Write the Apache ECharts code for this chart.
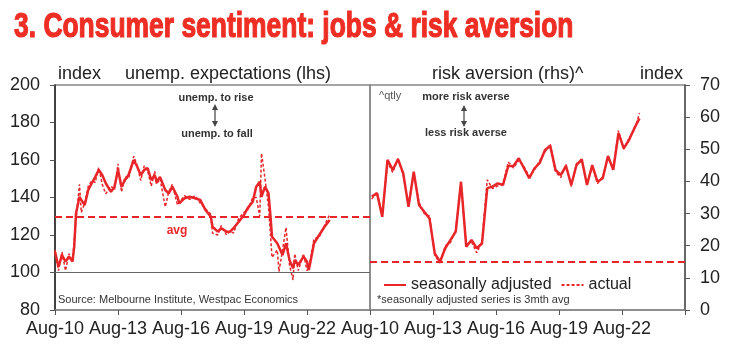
<!DOCTYPE html>
<html>
<head>
<meta charset="utf-8">
<script src="https://cdn.jsdelivr.net/npm/echarts@6/dist/echarts.min.js"></script>
<style>
  html, body { margin: 0; padding: 0; background: #fff; }
  #chart { width: 733px; height: 351px; }
</style>
</head>
<body>
<div id="chart"></div>
<script>
// unemployment expectations, monthly (lhs)
const unempDates = ['2010-08', '2010-10', '2010-12', '2011-02', '2011-04', '2011-06', '2011-07', '2011-08', '2011-10', '2011-11',
  '2012-01', '2012-03', '2012-05', '2012-07', '2012-09', '2012-11', '2013-01', '2013-04', '2013-06', '2013-08',
  '2013-10', '2013-12', '2014-02', '2014-05', '2014-07', '2014-09', '2014-11', '2015-01', '2015-03', '2015-05',
  '2015-06', '2015-08', '2015-11', '2016-01', '2016-03', '2016-06', '2016-07', '2016-10', '2017-01', '2017-04',
  '2017-07', '2017-10', '2018-01', '2018-02', '2018-05', '2018-07', '2018-10', '2018-12', '2019-02', '2019-05',
  '2019-08', '2019-10', '2020-01', '2020-03', '2020-05', '2020-06', '2020-08', '2020-10', '2020-11', '2020-12',
  '2021-03', '2021-04', '2021-06', '2021-08', '2021-10', '2021-12', '2022-01', '2022-03', '2022-06', '2022-08',
  '2022-09', '2022-10', '2022-12', '2023-03', '2023-06', '2023-09'];
const unempSA = [111, 103, 109.3, 105.8, 108.5, 105.8, 113.8, 131.5, 140.4, 138.7,
  136, 144, 147.6, 151, 154.7, 152, 147.6, 143, 145.8, 154.7,
  145.8, 149.3, 152, 160, 156.4, 152, 154.7, 155.6, 149.3, 152,
  148.4, 151, 144, 142.2, 145.8, 140.4, 136.9, 139.6, 140.4, 139.6,
  138.7, 133.3, 129.8, 124.4, 121.8, 123.6, 121.8, 121.8, 123.6, 127.1,
  130.7, 134.2, 137.8, 145.8, 148.4, 140.4, 145.8, 142.2, 131.5, 119.1,
  115.6, 116.4, 109.3, 115.6, 106.7, 102.2, 106.7, 104, 108.5, 105.8,
  101.3, 105.8, 115.6, 120, 124.4, 128];
const unempActual = [112, 101, 111, 101, 110, 106, 118, 128, 147, 132,
  137, 146, 149, 148, 156, 147, 142, 146, 144, 158,
  143, 151, 150, 162, 157, 149, 157, 154, 146, 154,
  147, 150, 135, 143, 147, 136, 137, 141, 139, 141,
  137, 134, 131, 121, 120, 125, 120, 122, 121, 129,
  132, 133, 140, 140, 130, 163.6, 150, 135, 122, 108,
  112, 100.5, 112, 124, 104, 96, 110, 101, 110, 101,
  103, 107, 118, 119, 125, 131];
const unempAvg = 130;

// risk aversion, quarterly (rhs)
const riskDates = ['2010-09', '2010-12',
  '2011-03', '2011-06', '2011-09', '2011-12', '2012-03', '2012-06', '2012-09', '2012-12',
  '2013-03', '2013-06', '2013-09', '2013-12', '2014-03', '2014-06', '2014-09', '2014-12',
  '2015-03', '2015-06', '2015-09', '2015-12', '2016-03', '2016-06', '2016-09', '2016-12',
  '2017-03', '2017-06', '2017-09', '2017-12', '2018-03', '2018-06', '2018-09', '2018-12',
  '2019-03', '2019-06', '2019-09', '2019-12', '2020-03', '2020-06', '2020-09', '2020-12',
  '2021-03', '2021-06', '2021-09', '2021-12', '2022-03', '2022-06', '2022-09', '2022-12',
  '2023-03', '2023-06'];
const riskSA = [35.3, 36.3, 29.0, 46.7, 43.6, 46.9, 42.5, 32.1, 43.0, 32.7,
  30.6, 28.5, 17.6, 15.0, 19.2, 21.8, 24.4, 39.9, 19.7, 21.8,
  19.2, 20.7, 37.9, 38.4, 39.4, 38.9, 44.8, 44.8, 47.2, 44.1,
  41.0, 44.1, 45.8, 49.8, 51.0, 43.6, 42.0, 44.8, 38.9, 45.1,
  46.9, 38.9, 45.1, 39.9, 41.0, 47.9, 43.6, 55.0, 50.3, 52.9,
  56.5, 59.6];
const riskActual = [34.5, 36.8, 29.5, 46.0, 42.8, 47.2, 41.8, 33.0, 42.4, 33.5,
  30.0, 29.2, 17.0, 14.6, 20.0, 21.0, 25.0, 39.5, 20.3, 21.2,
  17.8, 21.3, 40.5, 37.8, 38.6, 39.4, 46.0, 44.2, 46.6, 44.6,
  41.6, 43.5, 46.5, 49.2, 51.6, 43.0, 41.2, 45.3, 38.4, 45.6,
  46.2, 39.4, 44.6, 39.3, 41.6, 47.3, 44.2, 55.8, 50.0, 53.4,
  56.0, 61.2];
const riskAvg = 15;

const xTickLabels = ['Aug-10', 'Aug-13', 'Aug-16', 'Aug-19', 'Aug-22'];

const RED = '#E8262A';

// years since Aug-2010
function toX(d) {
  const [y, m] = d.split('-').map(Number);
  return (y - 2010) + (m - 8) / 12;
}
function pairs(dates, vals) {
  return dates.map((d, i) => [toX(d), vals[i]]);
}

function arrow(x, y1, y2) {
  return [
    { type: 'line', shape: { x1: x, y1: y1 + 4, x2: x, y2: y2 - 4 }, style: { stroke: '#666', lineWidth: 1.5 } },
    { type: 'polygon', shape: { points: [[x - 3, y1 + 6], [x + 3, y1 + 6], [x, y1]] }, style: { fill: '#444' } },
    { type: 'polygon', shape: { points: [[x - 3, y2 - 6], [x + 3, y2 - 6], [x, y2]] }, style: { fill: '#444' } }
  ];
}

function label(text, x, y, size, opts) {
  return {
    type: 'text', x: x, y: y,
    style: Object.assign({
      text: text, fill: '#222', fontSize: size, fontFamily: 'Liberation Sans',
      align: 'left', verticalAlign: 'middle'
    }, opts || {})
  };
}

function xAxisFor(idx) {
  return {
    gridIndex: idx, type: 'value', min: 0, max: 15, interval: 3,
    axisLine: { onZero: false, lineStyle: { color: '#888', width: 1.5 } },
    axisTick: { length: 5, lineStyle: { color: '#555' } },
    axisLabel: {
      margin: 10, color: '#222', fontSize: 18, fontFamily: 'Liberation Sans',
      formatter: v => xTickLabels[v / 3] || ''
    },
    splitLine: { show: false }
  };
}

const chart = echarts.init(document.getElementById('chart'));
chart.setOption({
  animation: false,
  grid: [
    { left: 55, top: 85, width: 315, height: 225, show: true, borderColor: '#888', borderWidth: 1.5 },
    { left: 370, top: 85, width: 315, height: 225, show: true, borderColor: '#888', borderWidth: 1.5 }
  ],
  xAxis: [xAxisFor(0), xAxisFor(1)],
  yAxis: [
    {
      gridIndex: 0, type: 'value', min: 80, max: 200, interval: 20, position: 'left',
      axisLine: { show: true, onZero: false, lineStyle: { color: '#222', width: 1.5 } },
      axisTick: { show: true, inside: false, length: 5, lineStyle: { color: '#555' } },
      axisLabel: { margin: 15, color: '#222', fontSize: 18, fontFamily: 'Liberation Sans' },
      splitLine: { show: false }
    },
    {
      gridIndex: 1, type: 'value', min: 0, max: 70, interval: 10, position: 'right',
      axisLine: { show: true, onZero: false, lineStyle: { color: '#555', width: 1.5 } },
      axisTick: { show: true, inside: false, length: 5, lineStyle: { color: '#555' } },
      axisLabel: { margin: 15, color: '#222', fontSize: 18, fontFamily: 'Liberation Sans' },
      splitLine: { show: false }
    }
  ],
  legend: {
    left: 378, top: 272,
    data: ['seasonally adjusted', 'actual'],
    itemWidth: 22, itemHeight: 10, itemGap: 9,
    itemStyle: { opacity: 0 },
    textStyle: { fontSize: 16, color: '#222', fontFamily: 'Liberation Sans' }
  },
  series: [
    {
      name: 'actual', type: 'line', xAxisIndex: 0, yAxisIndex: 0, symbol: 'none',
      data: pairs(unempDates, unempActual),
      lineStyle: { color: RED, width: 1.5, type: [3, 2] }, itemStyle: { color: RED },
      markLine: {
        silent: true, symbol: 'none', label: { show: false },
        data: [
          { yAxis: 100, lineStyle: { color: '#666', width: 1, type: 'solid' } },
          { yAxis: unempAvg, lineStyle: { color: RED, width: 2, type: [7, 4] } }
        ]
      }
    },
    {
      name: 'seasonally adjusted', type: 'line', xAxisIndex: 0, yAxisIndex: 0, symbol: 'none',
      data: pairs(unempDates, unempSA),
      lineStyle: { color: RED, width: 2.5 }, itemStyle: { color: RED }
    },
    {
      name: 'actual', type: 'line', xAxisIndex: 1, yAxisIndex: 1, symbol: 'none',
      data: pairs(riskDates, riskActual),
      lineStyle: { color: RED, width: 1.5, type: [3, 2] }, itemStyle: { color: RED },
      markLine: {
        silent: true, symbol: 'none', label: { show: false },
        data: [{ yAxis: riskAvg, lineStyle: { color: RED, width: 2, type: [7, 4] } }]
      }
    },
    {
      name: 'seasonally adjusted', type: 'line', xAxisIndex: 1, yAxisIndex: 1, symbol: 'none',
      data: pairs(riskDates, riskSA),
      lineStyle: { color: RED, width: 2.5 }, itemStyle: { color: RED }
    }
  ],
  graphic: [
    {
      type: 'text', x: 14, y: 10, scaleX: 0.755,
      style: {
        text: '3. Consumer sentiment: jobs & risk aversion', fill: '#EE2E24',
        fontSize: 35, fontWeight: 'bold', fontFamily: 'Liberation Sans',
        verticalAlign: 'top', stroke: '#EE2E24', lineWidth: 1.2
      }
    },
    label('index', 58, 74, 18),
    label('unemp. expectations (lhs)', 125, 74, 18),
    label('risk aversion (rhs)^', 432, 74, 18),
    label('index', 640, 74, 18),
    label('unemp. to rise', 216, 98, 11, { fontWeight: 'bold', align: 'center', fill: '#333' }),
    label('unemp. to fall', 217, 134, 11, { fontWeight: 'bold', align: 'center', fill: '#333' }),
    label('^qtly', 379, 96, 11, { fill: '#555' }),
    label('more risk averse', 466, 97, 11, { fontWeight: 'bold', align: 'center', fill: '#333' }),
    label('less risk averse', 466, 133, 11, { fontWeight: 'bold', align: 'center', fill: '#333' }),
    label('avg', 177, 231, 12, { fontWeight: 'bold', align: 'center', fill: RED }),
    label('Source: Melbourne Institute, Westpac Economics', 58, 300, 11, { fill: '#333' }),
    label('*seasonally adjusted series is 3mth avg', 377, 300, 11, { fill: '#333' })
  ].concat(arrow(215, 104, 127), arrow(464, 105, 127))
});
</script>
</body>
</html>
